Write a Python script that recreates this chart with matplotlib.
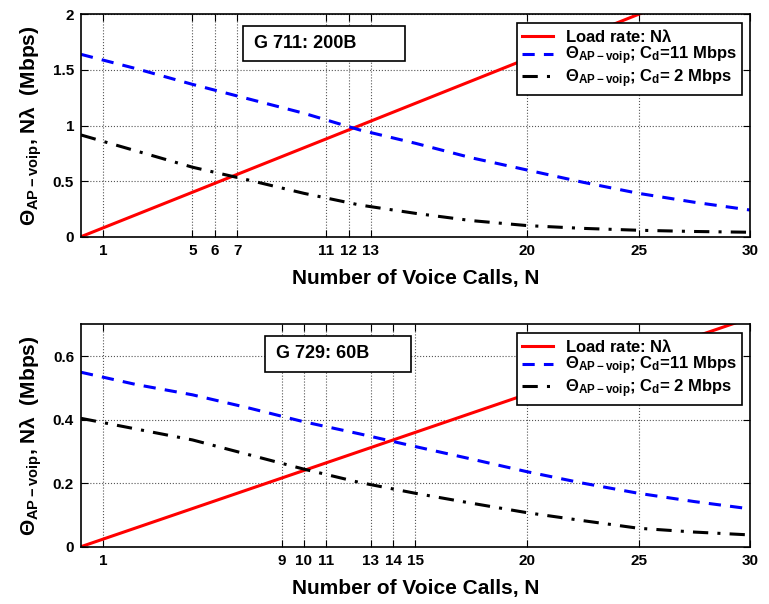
import numpy as np
import matplotlib
matplotlib.use('Agg')
from matplotlib import pyplot as plt
from matplotlib.patches import Rectangle

plt.rcParams['font.family'] = ['Liberation Sans', 'DejaVu Sans']
plt.rcParams['font.weight'] = 'bold'
plt.rcParams['mathtext.fontset'] = 'custom'
plt.rcParams['mathtext.rm'] = 'Liberation Sans:bold'
plt.rcParams['mathtext.bf'] = 'Liberation Sans:bold'
plt.rcParams['mathtext.it'] = 'Liberation Sans:bold'
plt.rcParams['mathtext.default'] = 'bf'

n_pts = [0, 2.5, 5, 7.5, 10, 12.5, 15, 17.5, 20, 22.5, 25, 27.5, 30]

# G 711: 200B
n_load_711 = [0, 30]
load_711 = [0, 2.4]
theta11_711 = [1.64, 1.51, 1.37, 1.24, 1.11, 0.96, 0.84, 0.71, 0.60, 0.49, 0.39, 0.31, 0.24]
theta2_711 = [0.915, 0.77, 0.625, 0.51, 0.39, 0.285, 0.21, 0.145, 0.10, 0.075, 0.058, 0.047, 0.04]
xticks_711 = [1, 5, 6, 7, 11, 12, 13, 20, 25, 30]
yticks_711 = [0, 0.5, 1, 1.5, 2]
ylabels_711 = ['0', '0.5', '1', '1.5', '2']

# G 729: 60B
n_load_729 = [0, 30]
load_729 = [0, 0.72]
theta11_729 = [0.549, 0.51, 0.478, 0.437, 0.393, 0.355, 0.315, 0.276, 0.236, 0.20, 0.168, 0.142, 0.119]
theta2_729 = [0.404, 0.37, 0.336, 0.29, 0.244, 0.202, 0.168, 0.137, 0.107, 0.082, 0.058, 0.046, 0.037]
xticks_729 = [1, 9, 10, 11, 13, 14, 15, 20, 25, 30]
yticks_729 = [0, 0.2, 0.4, 0.6]
ylabels_729 = ['0', '0.2', '0.4', '0.6']

panels = [
    ('G 711: 200B', n_load_711, load_711, theta11_711, theta2_711, xticks_711, yticks_711, ylabels_711, 2.0,
     (0.242, 0.791, 0.242, 0.156), (0.2586, 0.869)),
    ('G 729: 60B', n_load_729, load_729, theta11_729, theta2_729, xticks_729, yticks_729, ylabels_729, 0.7,
     (0.275, 0.787, 0.218, 0.160), (0.2915, 0.867)),
]

fig = plt.figure(figsize=(7.69, 6.04), dpi=100)
bottoms = [0.6081, 0.0949]

for (title, nl, load, th11, th2, xt, yt, yl, ymax, box, tpos), b in zip(panels, bottoms):
    ax = fig.add_axes([0.1053, b, 0.870, 0.3682])
    ax.plot(nl, load, '-', color='#ff0000', lw=2.2, label=r'Load rate: N$\lambda$')
    ax.plot(n_pts, th11, '--', color='#0000ff', lw=2.2, dashes=(4, 3),
            label=r'$\Theta_{AP-voip}$; C$_{d}$=11 Mbps')
    ax.plot(n_pts, th2, '-.', color='black', lw=2.2, dashes=(5, 3, 1, 3),
            label=r'$\Theta_{AP-voip}$; C$_{d}$= 2 Mbps')
    ax.set_xlim(0, 30)
    ax.set_ylim(0, ymax)
    ax.set_xticks(xt)
    ax.set_xticklabels([str(v) for v in xt])
    ax.set_yticks(yt)
    ax.set_yticklabels(yl)
    ax.tick_params(direction='in', top=True, right=True, labelsize=11, length=5, width=0.8, pad=5)
    ax.grid(True, linestyle=':', color='#555555', lw=0.8)
    for s in ax.spines.values():
        s.set_linewidth(1.2)
    ax.set_xlabel('Number of Voice Calls, N', fontsize=15, fontweight='bold', labelpad=8)
    ax.set_ylabel(r'$\Theta_{AP-voip}$, N$\lambda$  (Mbps)', fontsize=15, fontweight='bold', labelpad=6)
    ax.add_patch(Rectangle((box[0], box[1]), box[2], box[3], transform=ax.transAxes,
                           fill=True, facecolor='white', edgecolor='black', lw=1.2, zorder=5))
    ax.text(tpos[0], tpos[1], title, transform=ax.transAxes, fontsize=13, fontweight='bold',
            va='center', ha='left', zorder=6)
    leg = ax.legend(loc='upper right', bbox_to_anchor=(0.988, 0.962), borderaxespad=0,
                    fontsize=12, handlelength=1.9, handletextpad=0.7, labelspacing=0.0,
                    borderpad=0.3, fancybox=False, framealpha=1, edgecolor='black')
    leg.get_frame().set_linewidth(1.2)

plt.savefig('out.png', dpi=100)
